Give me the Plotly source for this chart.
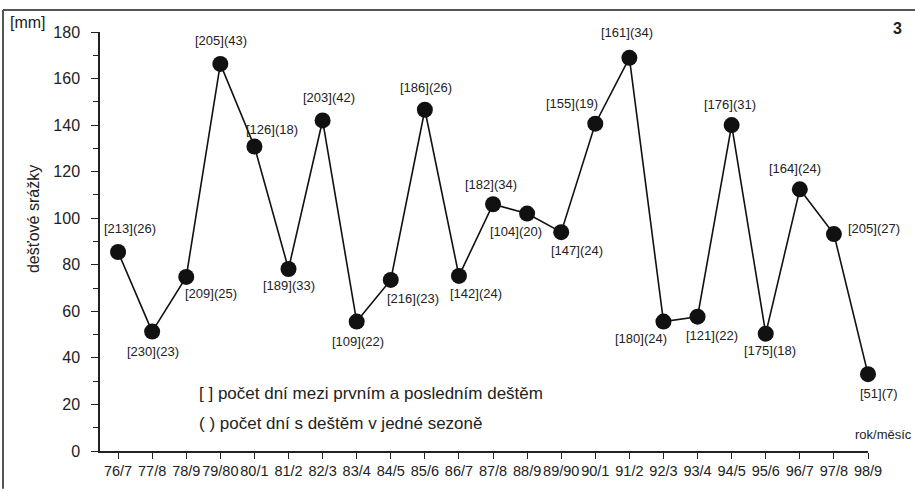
import plotly.graph_objects as go

categories = ["76/7", "77/8", "78/9", "79/80", "80/1", "81/2", "82/3", "83/4", "84/5",
              "85/6", "86/7", "87/8", "88/9", "89/90", "90/1", "91/2", "92/3", "93/4",
              "94/5", "95/6", "96/7", "97/8", "98/9"]
rainfall = [85.5, 51.3, 74.8, 166.3, 130.8, 78.2, 142.0, 55.6, 73.5, 146.6, 75.2, 106.0,
            102.0, 94.0, 140.6, 168.9, 55.6, 57.7, 140.0, 50.4, 112.4, 93.2, 33.0]
span_days = [213, 230, 209, 205, 126, 189, 203, 109, 216, 186, 142, 182, 104, 147, 155,
             161, 180, 121, 176, 175, 164, 205, 51]
rain_days = [26, 23, 25, 43, 18, 33, 42, 22, 23, 26, 24, 34, 20, 24, 19, 34, 24, 22, 31,
             18, 24, 27, 7]
y_ticks = [0, 20, 40, 60, 80, 100, 120, 140, 160, 180]

# label offsets in pixels (dx right, dy down)
label_offsets = [(12, -23), (1, 20), (25, 17), (1, -23), (18, -17), (0, 17), (6, -23),
                 (1, 20), (22, 19), (1, -22), (17, 18), (-2, -20), (-11, 18), (16, 18),
                 (-23, -20), (-2, -25), (-22, 17), (14, 19), (-2, -21), (4, 17), (-5, -21),
                 (40, -6), (11, 19)]

FONT = "Liberation Sans, Arial, Helvetica, sans-serif"
TXT = "#222222"
xs = list(range(len(categories)))

fig = go.Figure()
fig.add_trace(go.Scatter(
    x=xs, y=rainfall, mode="lines+markers",
    line=dict(color="#111111", width=1.6),
    marker=dict(color="#111111", size=16),
    cliponaxis=False, showlegend=False, hoverinfo="skip"))

annotations = []
for i, (s, d) in enumerate(zip(span_days, rain_days)):
    dx, dy = label_offsets[i]
    annotations.append(dict(
        x=xs[i], y=rainfall[i], xref="x", yref="y", text=f"[{s}]({d})",
        showarrow=False, xshift=dx, yshift=-dy, xanchor="center", yanchor="middle",
        font=dict(family=FONT, size=13, color=TXT)))

L, R, T, B = 100, 47, 32, 38
W, H = 915, 491
pw, ph = W - L - R, H - T - B


def px(x):
    return (x - L) / pw


def py(y):
    return (H - B - y) / ph


def note(x, y, text, size, xanchor="center", angle=0):
    return dict(x=px(x), y=py(y), xref="paper", yref="paper", text=text, showarrow=False,
                xanchor=xanchor, yanchor="middle", textangle=angle,
                font=dict(family=FONT, size=size, color=TXT))


annotations += [
    note(28, 22, "[mm]", 16),
    note(897, 28, "<b>3</b>", 16),
    note(883, 436, "rok/měsíc", 13),
    note(197, 395, "[ ] počet dní mezi prvním a posledním deštěm", 17, xanchor="left"),
    note(197, 425, "( ) počet dní s deštěm v jedné sezoně", 17, xanchor="left"),
    note(33, 220, "dešťové srážky", 16, angle=-90),
]

shapes = [
    dict(type="line", xref="paper", yref="paper", x0=px(3), x1=px(915), y0=py(10), y1=py(10),
         line=dict(color="#555555", width=2)),
    dict(type="line", xref="paper", yref="paper", x0=px(3), x1=px(3), y0=py(10), y1=py(491),
         line=dict(color="#555555", width=2)),
]

fig.update_layout(
    width=W, height=H, margin=dict(l=L, r=R, t=T, b=B),
    paper_bgcolor="white", plot_bgcolor="white",
    font=dict(family=FONT, color=TXT),
    annotations=annotations, shapes=shapes,
    xaxis=dict(range=[-0.53, 22], tickmode="array", tickvals=xs, ticktext=categories,
               showgrid=False, zeroline=False, showline=True, linecolor="#222222",
               linewidth=1.5, ticks="outside", ticklen=6, tickcolor="#222222",
               tickangle=0,
               tickfont=dict(family=FONT, size=14.5, color=TXT)),
    yaxis=dict(range=[0, 180], tickmode="array", tickvals=y_ticks,
               showgrid=False, zeroline=False, showline=True, linecolor="#222222",
               linewidth=1.5, ticks="outside", ticklen=7, tickcolor="#222222",
               ticklabelstandoff=8,
               minor=dict(dtick=10, ticks="outside", ticklen=5, tickcolor="#222222"),
               tickfont=dict(family=FONT, size=16, color=TXT)),
)

fig.write_html("out.html", config={"displayModeBar": False},
               post_script="document.body.style.margin='0';")
